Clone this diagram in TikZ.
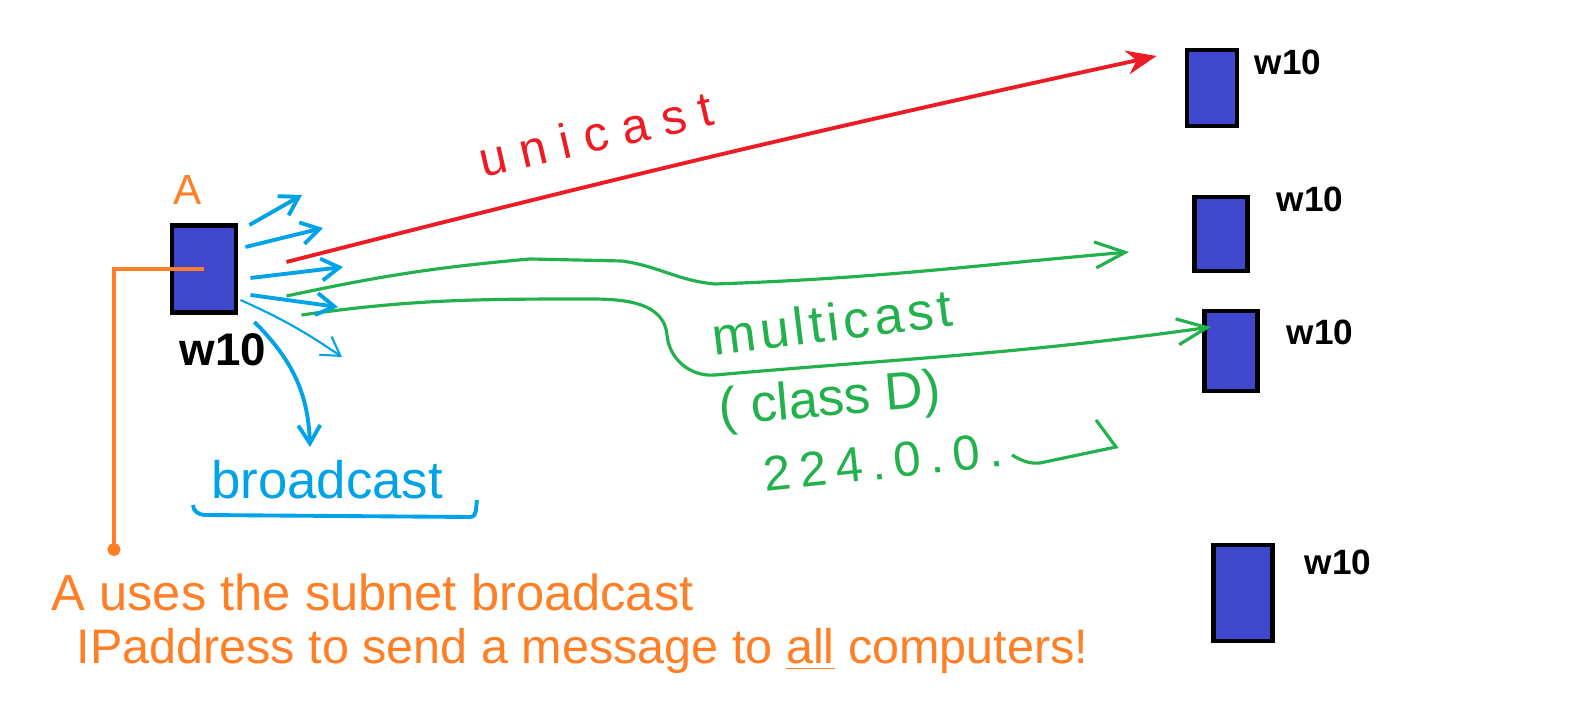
\documentclass[tikz,border=0pt]{standalone}
\usepackage{fontspec}
\setmainfont{Liberation Sans}
\usetikzlibrary{arrows.meta,calc}

\definecolor{pcblue}{HTML}{3F48CC}
\definecolor{pred}{HTML}{ED1C24}
\definecolor{pgreen}{HTML}{22B14C}
\definecolor{porange}{HTML}{FF7F27}
\definecolor{pcyan}{HTML}{00A2E8}

\begin{document}
\begin{tikzpicture}[x=0.01cm, y=0.01cm,
    pc/.style={draw=black, fill=pcblue, line width=1.4pt, inner sep=0pt},
    tag/.style={inner sep=0pt, font=\bfseries\fontsize{10}{12}\selectfont},
    word/.style={inner sep=0pt, font=\fontsize{15}{18}\selectfont},
    uni/.style={draw=pred, line width=1.1pt, -{Stealth[length=3mm,width=2.4mm]}},
    multi/.style={draw=pgreen, line width=0.9pt, -{Straight Barb[length=3mm,width=2.6mm]}},
    bcast/.style={draw=pcyan, line width=1.1pt, -{Straight Barb[length=1.8mm,width=2.2mm]}},
    note/.style={draw=porange, line width=0.9pt}]

            \useasboundingbox (0,0) rectangle (1591,-704);

            % Nodes
            \node[pc, minimum width=0.64cm, minimum height=0.87cm] (A) at (204,-269) {};
            \node[pc, minimum width=0.50cm, minimum height=0.76cm] (1) at (1212,-88) {};
            \node[pc, minimum width=0.53cm, minimum height=0.74cm] (2) at (1221,-234) {};
            \node[pc, minimum width=0.53cm, minimum height=0.80cm] (3) at (1231,-351) {};
            \node[pc, minimum width=0.59cm, minimum height=0.96cm] (4) at (1243,-593) {};

            % Labels
            \node[inner sep=0pt, text=porange, font=\fontsize{12}{14}\selectfont] (lA) at (188,-190) {A};
            \node[tag, font=\bfseries\fontsize{13}{15}\selectfont] (wA) at (223,-350) {w10};
            \node[tag] (w1) at (1288,-62) {w10};
            \node[tag] (w2) at (1310,-199) {w10};
            \node[tag] (w3) at (1320,-332) {w10};
            \node[tag] (w4) at (1338,-562) {w10};

            \node[word, text=pred, rotate=13, font=\fontsize{14}{16}\selectfont\addfontfeatures{LetterSpace=28}] (uc) at (596,-134) {unicast};
            \node[word, text=pgreen, rotate=7, font=\fontsize{15}{18}\selectfont\addfontfeatures{LetterSpace=8}] (mc) at (832,-322) {multicast};
            \node[word, text=pgreen, rotate=5] (cd) at (830,-402) {( class D)};
            \node[word, text=pgreen, rotate=6, font=\fontsize{14}{16}\selectfont\addfontfeatures{LetterSpace=18}] (ip) at (883,-462) {224.0.0.};
            \node[word, text=pcyan] (bc) at (327,-480) {broadcast};

            \node[word, text=porange, anchor=base west, font=\fontsize{14.4}{17}\selectfont] (n1) at (51,-611) {A uses the subnet broadcast};
            \node[word, text=porange, anchor=base west, font=\fontsize{13.8}{17}\selectfont] (n2) at (76,-663) {IPaddress to send a message to \underline{all} computers!};

            % Free ends
            \coordinate (b1) at (302,-195);
            \coordinate (b2) at (323,-228);
            \coordinate (b3) at (343,-267);
            \coordinate (b4) at (338,-307);
            \coordinate (b5) at (342,-357);
            \coordinate (b6) at (310,-447);
            \coordinate (dot) at (114,-556);

            % Edges (directed)
            \draw[uni] ($(A.east)+(48,7)$) to[bend left=1] ($(1.west)+(-28,32)$);
            \draw[multi] ($(A.east)+(48,-27)$) to[out=12,in=185] (530,-259) -- (622,-261)
                to[out=-8,in=175] (715,-284) to[out=2,in=185] ($(2.west)+(-63,-18)$);
            \draw[multi] ($(A.east)+(63,-46)$) to[out=8,in=180] (590,-299) to[out=0,in=95] (667,-335)
                to[out=-85,in=185] (715,-375) to[out=5,in=188] ($(3.west)+(9,24)$);

            \draw[bcast] ($(A.east)+(11,44)$) -- (b1);
            \draw[bcast] ($(A.east)+(7,22)$) -- (b2);
            \draw[bcast] ($(A.east)+(12,-9)$) -- (b3);
            \draw[bcast] ($(A.east)+(12,-26)$) -- (b4);
            \draw[bcast, line width=0.6pt] ($(A.east)+(2,-31)$) to[bend left=5] (b5);
            \draw[bcast] ($(A.east)+(16,-53)$) to[out=-45,in=92] (b6);

            % Marks
            \draw[pcyan, line width=1.1pt] ($(bc)+(-134,-25)$) to[out=-90,in=180] ($(bc)+(-122,-35)$)
                -- ($(bc)+(143,-37)$) to[out=0,in=-100] ($(bc)+(150,-20)$);
            \draw[pgreen, line width=0.9pt] ($(ip)+(129,7)$) to[out=-30,in=185] ($(ip)+(157,-1)$)
                -- ($(ip)+(233,15)$) -- ($(ip)+(213,42)$);
            \draw[note, -{Circle[length=1.3mm]}] (A.center) -| (dot);
\end{tikzpicture}
\end{document}
